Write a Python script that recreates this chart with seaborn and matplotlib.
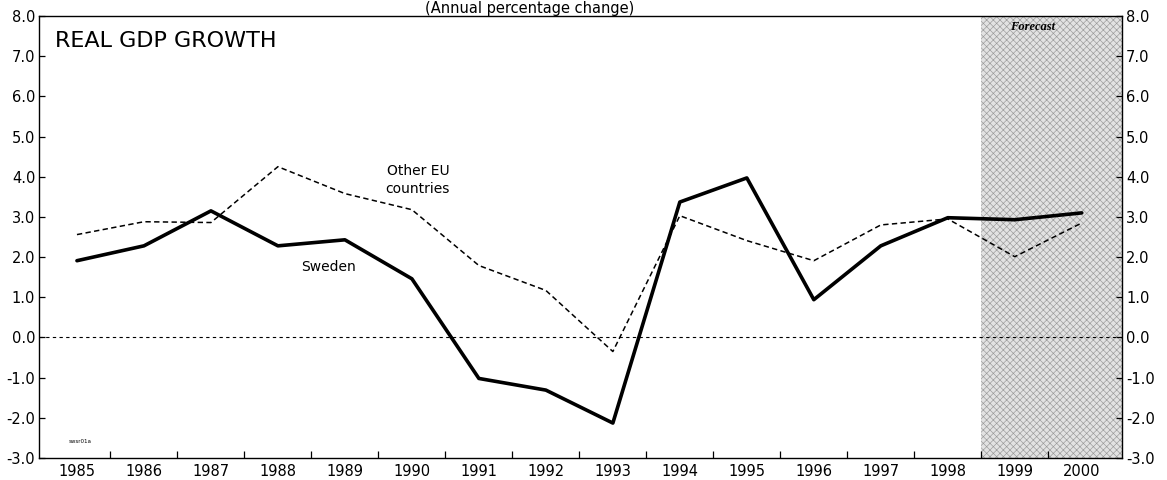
import matplotlib
matplotlib.use("Agg")
import matplotlib.pyplot as plt
import seaborn as sns
import pandas as pd
from matplotlib.ticker import FixedLocator, FormatStrFormatter

years = list(range(1985, 2001))
sweden = [1.91, 2.28, 3.15, 2.28, 2.43, 1.46, -1.02, -1.31, -2.13, 3.37,
          3.97, 0.94, 2.28, 2.98, 2.93, 3.10]
other_eu = [2.56, 2.88, 2.86, 4.25, 3.58, 3.18, 1.79, 1.17, -0.35, 3.03,
            2.41, 1.91, 2.80, 2.95, 2.01, 2.85]
y_ticks = [-3, -2, -1, 0, 1, 2, 3, 4, 5, 6, 7, 8]
forecast_start = 1998.5
title = "(Annual percentage change)"
panel_label = "REAL GDP GROWTH"

sns.set_theme(style="white")
plt.rcParams["font.family"] = ["DejaVu Sans"]
plt.rcParams["axes.unicode_minus"] = False
plt.rcParams["hatch.linewidth"] = 0.45
plt.rcParams["text.color"] = "black"
plt.rcParams["xtick.color"] = "black"
plt.rcParams["ytick.color"] = "black"
plt.rcParams["xtick.labelcolor"] = "black"
plt.rcParams["ytick.labelcolor"] = "black"

df = pd.DataFrame({"year": years, "Sweden": sweden, "Other EU": other_eu})

fig = plt.figure(figsize=(11.67, 4.8), dpi=100)
ax = fig.add_axes([0.0338, 0.0458, 0.9276, 0.9209])

xmin, xmax = 1984.44, 2000.6
ax.axvspan(forecast_start, xmax, facecolor="#e2e2e2", hatch="xxxxx",
           edgecolor="#999999", linewidth=0, zorder=0)
ax.axhline(0, color="black", lw=0.8, dashes=(3, 3), zorder=1)

sns.lineplot(data=df, x="year", y="Other EU", ax=ax, color="black",
             lw=1.1, zorder=2)
ax.lines[-1].set_dashes((3.5, 2.2))
sns.lineplot(data=df, x="year", y="Sweden", ax=ax, color="black",
             lw=2.6, zorder=3)

ax.set_xlim(xmin, xmax)
ax.set_ylim(-3, 8)
ax.set_xlabel("")
ax.set_ylabel("")

ax.xaxis.set_major_locator(FixedLocator(years))
ax.xaxis.set_minor_locator(FixedLocator([y + 0.5 for y in years[:-1]]))
ax.set_xticklabels([str(y) for y in years])
ax.yaxis.set_major_locator(FixedLocator(y_ticks))
ax.yaxis.set_major_formatter(FormatStrFormatter("%.1f"))

ax.tick_params(axis="x", which="major", length=0, labelsize=10.5, pad=4)
ax.tick_params(axis="x", which="minor", direction="in", length=5,
               width=0.9, bottom=True, top=False)
ax.tick_params(axis="y", which="major", direction="in", length=4,
               width=0.9, left=True, right=True, labelleft=True,
               labelright=True, labelsize=10.5, pad=3)

for s in ax.spines.values():
    s.set_visible(True)
    s.set_color("black")
    s.set_linewidth(1.0)

ax.text(0.0145, 0.965, panel_label, transform=ax.transAxes, fontsize=16,
        ha="left", va="top", color="black")
ax.text(1999.27, 7.88, "Forecast", fontsize=9, family="Liberation Serif",
        style="italic", weight="bold", ha="center", va="top")
ax.text(1990.09, 3.92, "Other EU\ncountries", fontsize=10, ha="center",
        va="center", linespacing=1.3)
ax.text(1988.75, 1.75, "Sweden", fontsize=10, ha="center", va="center")
ax.text(1985.05, -2.6, "swsr01a", fontsize=4, ha="center", va="center")

fig.text(530 / 1167, 1 - 12.5 / 480, title, fontsize=10.5, ha="center",
         va="baseline")

fig.savefig("out.png", dpi=100)
